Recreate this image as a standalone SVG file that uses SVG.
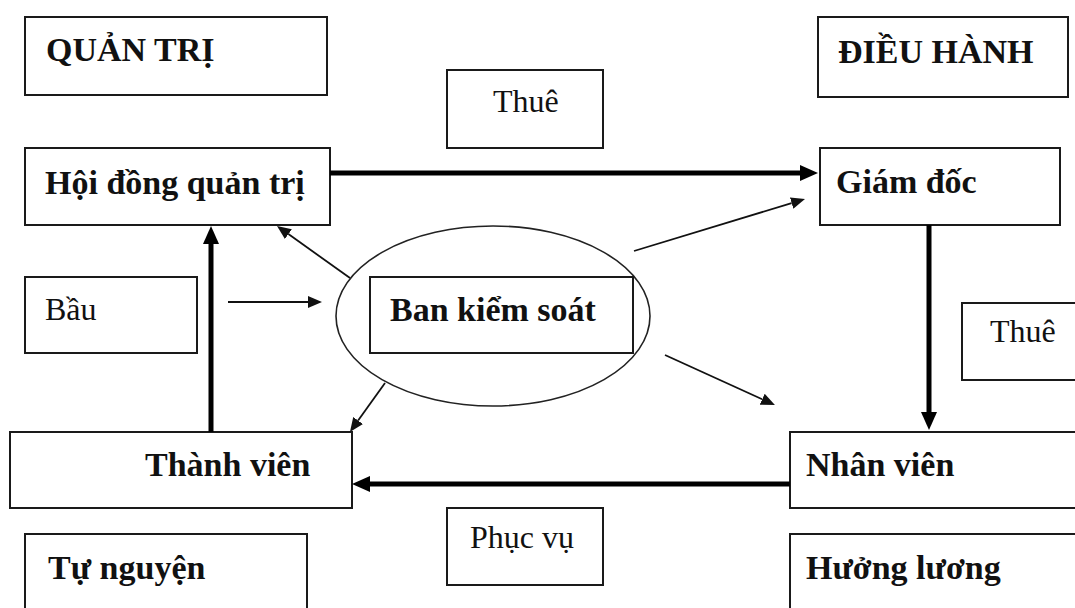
<svg xmlns="http://www.w3.org/2000/svg" width="1075" height="608" viewBox="0 0 1075 608">
<style>
.box{fill:#fff;stroke:#1a1a1a;stroke-width:2}
.t{font-family:"Liberation Serif","Times New Roman",serif;font-size:32px;fill:#111}
.b{font-weight:bold;font-size:34px}
.thick{stroke:#000;stroke-width:5;fill:none}
.thin{stroke:#111;stroke-width:1.8;fill:none}
</style>
<defs>
<marker id="ah" markerUnits="userSpaceOnUse" markerWidth="18" markerHeight="16" refX="0" refY="8" orient="auto"><path d="M0,0 L18,8 L0,16 z" fill="#000"/></marker>
<marker id="ahs" markerUnits="userSpaceOnUse" markerWidth="14" markerHeight="12" refX="0" refY="6" orient="auto"><path d="M0,0 L14,6 L0,12 z" fill="#111"/></marker>
</defs>
<rect width="1075" height="608" fill="#fff"/>
<g id="quan-tri"><rect class="box" x="25" y="17" width="302" height="78"/><text class="t b" x="46" y="61">QUẢN TRỊ</text></g>
<g id="dieu-hanh"><rect class="box" x="818" y="17" width="250" height="80"/><text class="t b" x="838" y="63">ĐIỀU HÀNH</text></g>
<g id="thue-top"><rect class="box" x="447" y="70" width="156" height="78"/><text class="t" x="493" y="112">Thuê</text></g>
<g id="hoi-dong"><rect class="box" x="25" y="148" width="305" height="77"/><text class="t b" x="45" y="194">Hội đồng quản trị</text></g>
<g id="giam-doc"><rect class="box" x="820" y="148" width="240" height="77"/><text class="t b" x="836" y="193">Giám đốc</text></g>
<g id="bau"><rect class="box" x="25" y="277" width="172" height="76"/><text class="t" x="45" y="320">Bầu</text></g>
<g id="ban-kiem-soat"><ellipse cx="493" cy="316" rx="157" ry="90" fill="none" stroke="#222" stroke-width="1.6"/><rect class="box" x="370" y="277" width="263" height="76"/><text class="t b" x="390" y="321">Ban kiểm soát</text></g>
<g id="thue-right"><rect class="box" x="962" y="303" width="120" height="77"/><text class="t" x="990" y="342">Thuê</text></g>
<g id="thanh-vien"><rect class="box" x="10" y="432" width="342" height="76"/><text class="t b" x="145" y="476">Thành viên</text></g>
<g id="nhan-vien"><rect class="box" x="790" y="432" width="292" height="76"/><text class="t b" x="806" y="476">Nhân viên</text></g>
<g id="phuc-vu"><rect class="box" x="447" y="508" width="156" height="77"/><text class="t" x="470" y="548">Phục vụ</text></g>
<g id="tu-nguyen"><rect class="box" x="25" y="534" width="282" height="90"/><text class="t b" x="48" y="579">Tự nguyện</text></g>
<g id="huong-luong"><rect class="box" x="790" y="534" width="292" height="90"/><text class="t b" x="806" y="579">Hưởng lương</text></g>
<g id="connectors">
<line class="thick" x1="330" y1="173" x2="800" y2="173" marker-end="url(#ah)"/>
<line class="thick" x1="211" y1="432" x2="211" y2="244" marker-end="url(#ah)"/>
<line class="thick" x1="929" y1="225" x2="929" y2="412" marker-end="url(#ah)"/>
<line class="thick" x1="790" y1="484" x2="370" y2="484" marker-end="url(#ah)"/>
<line class="thin" x1="228" y1="302" x2="308" y2="302" marker-end="url(#ahs)"/>
<line class="thin" x1="350" y1="278" x2="288.4" y2="234.1" marker-end="url(#ahs)"/>
<line class="thin" x1="634" y1="251" x2="791.6" y2="203.1" marker-end="url(#ahs)"/>
<line class="thin" x1="665" y1="355" x2="762.2" y2="399.2" marker-end="url(#ahs)"/>
<line class="thin" x1="385" y1="383" x2="358.1" y2="420.6" marker-end="url(#ahs)"/>
</g>
</svg>
